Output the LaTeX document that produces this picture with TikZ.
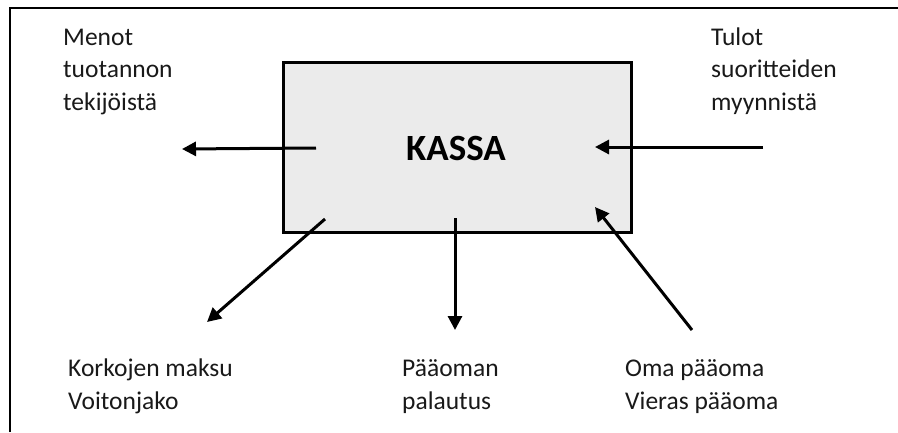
\documentclass[tikz,border=0pt]{standalone}
\usepackage{fontspec}
\setmainfont{Carlito}
\usetikzlibrary{arrows.meta}
\begin{document}
\begin{tikzpicture}[x=1pt,y=-1pt,
  lbl/.style={anchor=base west,inner sep=0pt,font=\fontsize{25.5}{32.5}\selectfont,align=left,text=black!90},
  flow/.style={line width=3pt,-{Triangle[length=14pt,width=14pt]}},
  kassabox/.style={draw=black,line width=3pt,fill=black!8}]
\useasboundingbox (0,0) rectangle (898,432);
\draw[line width=2pt] (10,432) -- (10,8) -- (898,8);
\path[kassabox] (283,62) rectangle (631,232);
\node[inner sep=0pt,font=\fontsize{37}{42}\selectfont\bfseries] (kassa) at (456,148) {KASSA};
\node[lbl] (menot) at (63,110) {Menot\\tuotannon\\tekijöistä};
\node[lbl] (tulot) at (711,110) {Tulot\\suoritteiden\\myynnistä};
\node[lbl] (korot) at (68,409) {Korkojen maksu\\Voitonjako};
\node[lbl] (palautus) at (402,409) {Pääoman\\palautus};
\node[lbl] (paaoma) at (625,409) {Oma pääoma\\Vieras pääoma};
\coordinate (l1) at (316,148); \coordinate (l2) at (182,149);
\coordinate (r1) at (763,147); \coordinate (r2) at (595,147);
\coordinate (bl1) at (325,219); \coordinate (bl2) at (207,322);
\coordinate (d1) at (455,218); \coordinate (d2) at (455,330);
\coordinate (u1) at (692,330); \coordinate (u2) at (595,207);
\draw[flow] (l1) -- (l2);
\draw[flow] (r1) -- (r2);
\draw[flow] (bl1) -- (bl2);
\draw[flow] (d1) -- (d2);
\draw[flow] (u1) -- (u2);
\end{tikzpicture}
\end{document}
